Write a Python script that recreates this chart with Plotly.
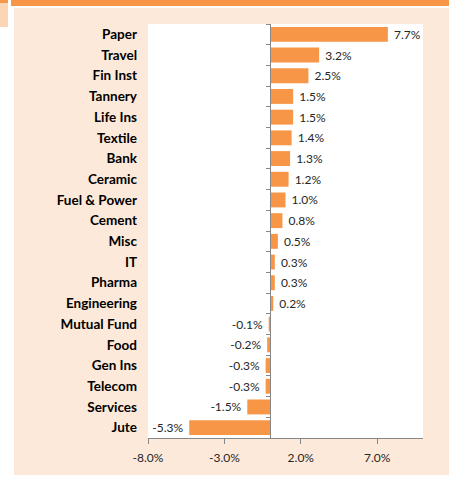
import plotly.graph_objects as go

categories = ["Paper", "Travel", "Fin Inst", "Tannery", "Life Ins", "Textile", "Bank",
              "Ceramic", "Fuel & Power", "Cement", "Misc", "IT", "Pharma", "Engineering",
              "Mutual Fund", "Food", "Gen Ins", "Telecom", "Services", "Jute"]
values = [7.7, 3.2, 2.5, 1.5, 1.5, 1.4, 1.3, 1.2, 1.0, 0.8, 0.5, 0.3, 0.3, 0.2,
          -0.1, -0.2, -0.3, -0.3, -1.5, -5.3]
x_tickvals = [-8, -3, 2, 7]
x_ticktext = ["-8.0%", "-3.0%", "2.0%", "7.0%"]

W, H = 449, 477
ML, MR, MT, MB = 148, 26, 24, 39
PW, PH = W - ML - MR, H - MT - MB
XMIN, XMAX = -8, 10

ORANGE = "#F79646"
CREAM = "#FDE9D9"
FONT = "Lato"

def px_x(p):
    return (p - ML) / PW

def px_y(p):
    return (H - MB - p) / PH

labels = [(" " + f"{v:.1f}%") if v >= 0 else (f"{v:.1f}%" + " ") for v in values]

fig = go.Figure()
fig.add_trace(go.Bar(
    x=values, y=categories, orientation="h",
    marker=dict(color=ORANGE, line=dict(width=0)),
    text=labels, textposition="outside", constraintext="none",
    textfont=dict(family=FONT, size=12, color="#262626"),
    cliponaxis=False, yaxis="y", showlegend=False,
))

zero_pos = (0 - XMIN) / (XMAX - XMIN)
n = len(categories)

shapes = []
def rect(x0, y0, x1, y1, color):
    shapes.append(dict(type="rect", xref="paper", yref="paper",
                       x0=px_x(x0), x1=px_x(x1), y0=px_y(y0), y1=px_y(y1),
                       fillcolor=color, line=dict(width=0), layer="below"))

rect(0, 0, 14, H, "white")
rect(0, 0, W, 8, "white")
rect(0, 475, W, H, "white")
rect(11, 0, W, 6, ORANGE)
rect(0, 0, 8, 27, "#FCD5B4")
rect(0, 0, 8, 3, ORANGE)

fig.update_layout(
    width=W, height=H,
    margin=dict(l=ML, r=MR, t=MT, b=MB, pad=0),
    paper_bgcolor=CREAM, plot_bgcolor="white",
    bargap=0.28,
    font=dict(family=FONT, color="#262626"),
    xaxis=dict(range=[XMIN, XMAX], tickvals=x_tickvals, ticktext=x_ticktext,
               showgrid=False, zeroline=False, showline=True, linecolor="#868686",
               linewidth=1, ticks="outside", ticklen=5, tickcolor="#868686",
               ticklabelstandoff=4,
               tickfont=dict(family=FONT, size=12, color="#262626"), fixedrange=True),
    yaxis=dict(categoryorder="array", categoryarray=categories, autorange="reversed",
               showgrid=False, zeroline=False, showline=False, ticks="",
               ticklabelstandoff=10,
               tickfont=dict(family=FONT, size=13.5, color="#000000", weight="bold")),
    yaxis2=dict(overlaying="y", anchor="free", position=zero_pos, side="left",
                range=[n - 0.5, -0.5], tickvals=[i - 0.5 for i in range(n + 1)],
                showticklabels=False, showgrid=False, zeroline=False,
                showline=True, linecolor="#868686", linewidth=1,
                ticks="outside", ticklen=4, tickcolor="#868686"),
    shapes=shapes,
)
fig.add_trace(go.Scatter(x=[0], y=[0], yaxis="y2", mode="markers",
                         marker=dict(opacity=0), showlegend=False, hoverinfo="skip"))

fig.write_html("out.html")
